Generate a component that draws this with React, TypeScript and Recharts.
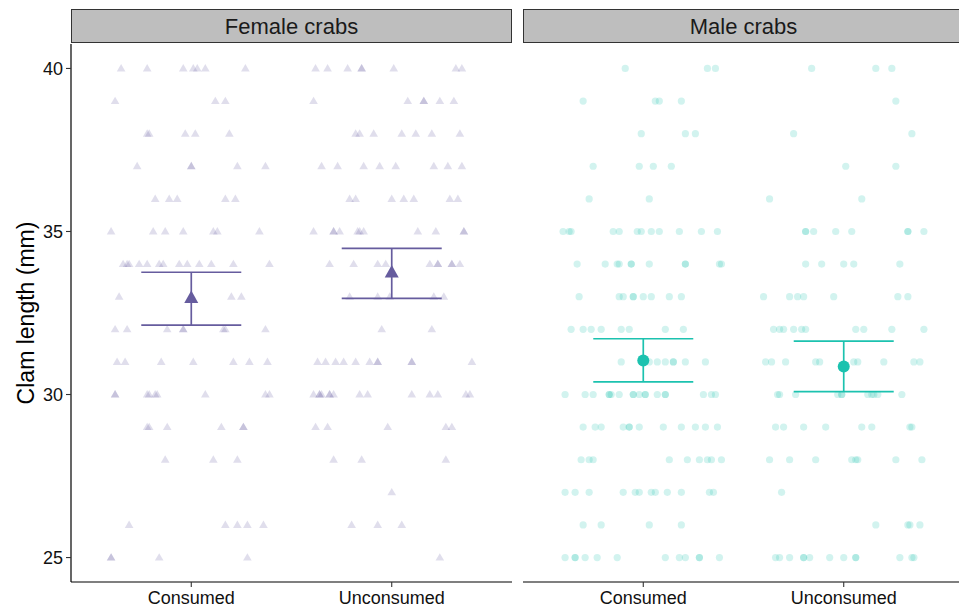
import React from 'react';
import { ScatterChart, Scatter, XAxis, YAxis, ErrorBar } from 'recharts';

const groups = ['Consumed', 'Unconsumed'];
const yTicks = [25, 30, 35, 40];

// clam length, then jittered x positions (1 = Consumed, 2 = Unconsumed)
const femaleRows: [number, number[]][] = [
  [40, [0.65, 0.78, 0.96, 1.01, 1.03, 1.07, 1.27, 1.62, 1.68, 1.78, 1.85, 1.85, 2.01, 2.32, 2.35]],
  [39, [0.62, 1.12, 1.17, 1.61, 2.08, 2.16, 2.16, 2.24, 2.31]],
  [38, [0.78, 0.79, 0.97, 1.02, 1.19, 1.82, 1.84, 1.91, 2.05, 2.12, 2.2, 2.34]],
  [37, [0.73, 1.0, 1.0, 1.23, 1.37, 1.65, 1.73, 1.86, 1.94, 2.02, 2.21, 2.28, 2.35]],
  [36, [0.82, 0.89, 0.93, 1.17, 1.22, 1.79, 1.82, 2.0, 2.06, 2.11, 2.29, 2.33]],
  [35, [0.6, 0.81, 0.87, 0.96, 1.11, 1.13, 1.34, 1.61, 1.71, 1.71, 1.74, 1.83, 1.84, 1.86, 2.13, 2.22, 2.36, 2.36]],
  [34, [0.66, 0.68, 0.69, 0.74, 0.78, 0.84, 0.86, 0.94, 0.98, 1.04, 1.1, 1.21, 1.39, 1.69, 1.81, 1.93, 1.97, 2.19, 2.23, 2.23, 2.3, 2.3, 2.34]],
  [33, [0.64, 1.2, 1.25, 1.79, 1.93, 1.99, 2.21, 2.26]],
  [32, [0.62, 0.68, 0.88, 0.96, 0.96, 1.16, 1.17, 1.37, 1.95, 2.2]],
  [31, [0.63, 0.67, 0.85, 1.01, 1.21, 1.29, 1.38, 1.63, 1.67, 1.72, 1.76, 1.82, 1.89, 1.93, 1.93, 2.1, 2.1, 2.4]],
  [30, [0.62, 0.62, 0.78, 0.79, 0.82, 0.83, 1.07, 1.37, 1.39, 1.61, 1.64, 1.64, 1.65, 1.69, 1.69, 1.71, 1.84, 1.88, 2.1, 2.19, 2.23, 2.37, 2.39]],
  [29, [0.78, 0.79, 0.88, 1.15, 1.26, 1.26, 1.62, 1.68, 1.98, 2.27, 2.3]],
  [28, [0.87, 1.11, 1.23, 1.71, 1.85, 2.27]],
  [27, [2.0]],
  [26, [0.69, 1.17, 1.23, 1.28, 1.36, 1.8, 1.93, 2.05]],
  [25, [0.6, 0.6, 0.84, 1.28, 2.24]],
];

const maleRows: [number, number[]][] = [
  [40, [0.91, 1.32, 1.36, 1.84, 2.16, 2.24]],
  [39, [0.7, 1.06, 1.08, 1.19, 2.26]],
  [38, [0.99, 1.21, 1.26, 1.75, 2.34]],
  [37, [0.75, 0.98, 1.05, 1.14, 2.01, 2.26]],
  [36, [0.73, 1.03, 1.63, 2.09]],
  [35, [0.6, 0.63, 0.64, 0.85, 0.88, 0.97, 0.99, 1.04, 1.08, 1.18, 1.29, 1.37, 1.81, 1.81, 1.85, 1.96, 2.04, 2.32, 2.32, 2.4]],
  [34, [0.67, 0.81, 0.87, 0.88, 0.94, 0.94, 1.03, 1.21, 1.21, 1.38, 1.39, 1.81, 1.89, 2.0, 2.05, 2.28]],
  [33, [0.68, 0.88, 0.9, 0.95, 0.95, 1.0, 1.04, 1.13, 1.19, 1.6, 1.73, 1.77, 1.8, 1.95, 2.27, 2.32]],
  [32, [0.64, 0.7, 0.74, 0.79, 0.89, 0.93, 1.11, 1.2, 1.65, 1.68, 1.7, 1.75, 1.79, 1.81, 2.06, 2.1, 2.24, 2.4]],
  [31, [0.89, 1.03, 1.07, 1.11, 1.15, 1.15, 1.21, 1.31, 1.61, 1.64, 1.71, 1.86, 1.88, 2.05, 2.07, 2.2, 2.35, 2.38]],
  [30, [0.61, 0.71, 0.75, 0.83, 0.83, 0.84, 0.88, 0.95, 0.95, 0.98, 1.01, 1.01, 1.07, 1.11, 1.11, 1.3, 1.34, 1.36, 1.67, 1.68, 1.76, 1.97, 1.99, 1.99, 2.12, 2.14, 2.15, 2.17, 2.29]],
  [29, [0.7, 0.76, 0.79, 0.9, 0.93, 0.93, 0.98, 1.1, 1.19, 1.26, 1.31, 1.37, 1.66, 1.7, 1.8, 1.91, 2.09, 2.14, 2.33, 2.34]],
  [28, [0.69, 0.73, 0.75, 1.13, 1.22, 1.28, 1.32, 1.34, 1.39, 1.63, 1.73, 1.86, 2.04, 2.06, 2.07, 2.26, 2.39]],
  [27, [0.61, 0.66, 0.73, 0.9, 0.96, 0.98, 1.04, 1.06, 1.12, 1.19, 1.33, 1.35, 1.69]],
  [26, [0.7, 0.79, 1.03, 1.19, 2.16, 2.32, 2.33, 2.38]],
  [25, [0.61, 0.66, 0.66, 0.71, 0.77, 0.87, 1.11, 1.18, 1.21, 1.28, 1.28, 1.38, 1.66, 1.68, 1.73, 1.8, 1.8, 1.83, 1.93, 2.0, 2.06, 2.06, 2.28, 2.34, 2.35]],
];

// mean and interval per group (Consumed, Unconsumed)
const femaleMean = [32.96, 33.74];
const femaleLow = [32.13, 32.95];
const femaleHigh = [33.75, 34.48];
const maleMean = [31.04, 30.86];
const maleLow = [30.39, 30.09];
const maleHigh = [31.71, 31.64];

const FEMALE = '#665C9E';
const MALE = '#1CC2AF';

const toPoints = (rows: [number, number[]][]) =>
  rows.flatMap(([y, xs]) => xs.map((x) => ({ x, y })));

const toMeans = (mean: number[], low: number[], high: number[]) =>
  groups.map((g, i) => ({ x: i + 1, y: mean[i], err: [mean[i] - low[i], high[i] - mean[i]] }));

const triangle = (color: string, half: number, up: number, down: number, opacity: number) => (p: any) => (
  <polygon
    points={`${p.cx},${p.cy - up} ${p.cx - half},${p.cy + down} ${p.cx + half},${p.cy + down}`}
    fill={color}
    fillOpacity={opacity}
  />
);

const dot = (color: string, r: number, opacity: number) => (p: any) => (
  <circle cx={p.cx} cy={p.cy} r={r} fill={color} fillOpacity={opacity} />
);

const FONT = '"Liberation Sans", Arial, Helvetica, sans-serif';

const Panel = ({ left, title, rows, means, color, female, showY }: any) => {
  const width = 441;
  return (
    <>
      <div
        style={{
          position: 'absolute',
          left,
          top: 9,
          width: width - 2,
          height: 29,
          background: '#BEBEBE',
          border: '1.3px solid #333',
          display: 'flex',
          alignItems: 'center',
          justifyContent: 'center',
          paddingTop: 3,
          boxSizing: 'content-box',
          fontSize: 22,
          color: '#1a1a1a',
        }}
      >
        <span style={{ marginTop: -1 }}>{title}</span>
      </div>
      <div style={{ position: 'absolute', left: showY ? 0 : left, top: 0 }}>
        <ScatterChart
          width={showY ? width + 71 : width}
          height={607}
          margin={{ top: 44, right: 0, bottom: 0, left: 0 }}
        >
          <XAxis
            type="number"
            dataKey="x"
            domain={[0.4, 2.6]}
            ticks={[1, 2]}
            interval={0}
            allowDataOverflow
            tickFormatter={(v: number) => groups[v - 1]}
            height={25}
            tickSize={5}
            tickMargin={4}
            axisLine={{ stroke: '#000', strokeWidth: 1.2 }}
            tickLine={{ stroke: '#333', strokeWidth: 1.1 }}
            tick={{ fill: '#111', fontSize: 18 }}
          />
          <YAxis
            type="number"
            dataKey="y"
            domain={[24.25, 40.75]}
            ticks={yTicks}
            interval={0}
            allowDataOverflow
            hide={!showY}
            width={71}
            tickSize={5}
            tickMargin={3}
            axisLine={{ stroke: '#000', strokeWidth: 1.2 }}
            tickLine={{ stroke: '#333', strokeWidth: 1.1 }}
            tick={{ fill: '#111', fontSize: 18 }}
            label={{
              value: 'Clam length (mm)',
              angle: -90,
              position: 'insideLeft',
              offset: 26,
              style: { textAnchor: 'middle', fontSize: 23, fill: '#000' },
            }}
          />
          <Scatter
            data={toPoints(rows)}
            isAnimationActive={false}
            shape={female ? triangle(color, 4.3, 4.4, 3, 0.2) : dot(color, 3.6, 0.2)}
          />
          <Scatter
            data={means}
            isAnimationActive={false}
            shape={female ? triangle(color, 7, 7.5, 5, 1) : dot(color, 6, 1)}
          >
            <ErrorBar dataKey="err" direction="y" width={50} stroke={color} strokeWidth={1.7} />
          </Scatter>
        </ScatterChart>
      </div>
    </>
  );
};

export default function App() {
  return (
    <div
      style={{
        position: 'absolute',
        left: 0,
        top: 0,
        width: 959,
        height: 607,
        overflow: 'hidden',
        background: '#fff',
        fontFamily: FONT,
      }}
    >
      <Panel
        left={71}
        title="Female crabs"
        rows={femaleRows}
        means={toMeans(femaleMean, femaleLow, femaleHigh)}
        color={FEMALE}
        female
        showY
      />
      <Panel
        left={523}
        title="Male crabs"
        rows={maleRows}
        means={toMeans(maleMean, maleLow, maleHigh)}
        color={MALE}
        female={false}
        showY={false}
      />
    </div>
  );
}
